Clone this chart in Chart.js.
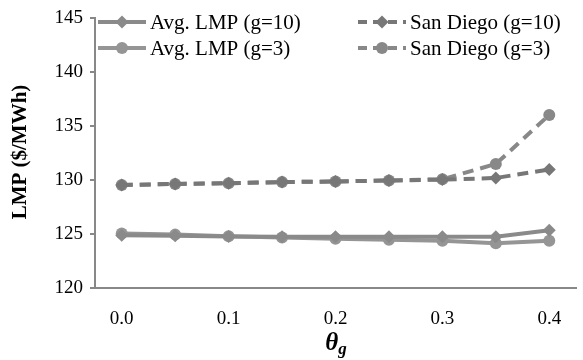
<!DOCTYPE html>
<html>
<head>
<meta charset="utf-8">
<script src="https://cdn.jsdelivr.net/npm/chart.js@4.4.1/dist/chart.umd.min.js"></script>
<style>
  html, body { margin: 0; padding: 0; background: #fff; }
  #wrap { width: 583px; height: 360px; }
</style>
</head>
<body>
<div id="wrap"><canvas id="lmpChart" width="583" height="360"></canvas></div>
<script>
const thetaLabels = ["0.0", "0.05", "0.1", "0.15", "0.2", "0.25", "0.3", "0.35", "0.4"];
const avgLmpG10 = [124.9, 124.85, 124.78, 124.76, 124.75, 124.75, 124.75, 124.75, 125.35];
const avgLmpG3 = [125.05, 124.95, 124.8, 124.68, 124.57, 124.48, 124.38, 124.15, 124.38];
const sanDiegoG10 = [129.55, 129.65, 129.72, 129.82, 129.88, 129.97, 130.05, 130.2, 131.0];
const sanDiegoG3 = [129.55, 129.65, 129.72, 129.82, 129.88, 129.97, 130.08, 131.5, 136.05];
const yTicks = [120, 125, 130, 135, 140, 145];

const serif = "'Liberation Serif', 'Times New Roman', serif";

function series(label, data, color, shape, dashed) {
  return {
    label: label,
    data: data,
    borderColor: color,
    backgroundColor: color,
    pointBackgroundColor: color,
    pointBorderColor: color,
    pointStyle: shape,
    pointRadius: shape === "rectRot" ? 6.5 : 6,
    pointBorderWidth: 0,
    borderWidth: 4,
    borderDash: dashed ? [11, 7] : [],
    tension: 0,
    fill: false
  };
}

const datasets = [
  series("Avg. LMP (g=10)", avgLmpG10, "#8a8a8a", "rectRot", false),
  series("San Diego (g=10)", sanDiegoG10, "#777777", "rectRot", true),
  series("Avg. LMP (g=3)", avgLmpG3, "#959595", "circle", false),
  series("San Diego (g=3)", sanDiegoG3, "#888888", "circle", true)
];

// legend laid out like the original: two columns, two rows, inside the plot
const legendSlots = [
  { x: 98, y: 22 },
  { x: 358, y: 22 },
  { x: 98, y: 48 },
  { x: 358, y: 48 }
];

const legendPlugin = {
  id: "cornerLegend",
  afterDatasetsDraw(chart) {
    const ctx = chart.ctx;
    chart.data.datasets.forEach((ds, i) => {
      const slot = legendSlots[i];
      const lineW = 48;
      ctx.save();
      ctx.strokeStyle = ds.borderColor;
      ctx.lineWidth = ds.borderWidth;
      ctx.setLineDash(ds.borderDash.length ? [9, 6] : []);
      ctx.beginPath();
      ctx.moveTo(slot.x, slot.y);
      ctx.lineTo(slot.x + lineW, slot.y);
      ctx.stroke();
      ctx.setLineDash([]);
      ctx.fillStyle = ds.backgroundColor;
      Chart.helpers.drawPoint(ctx, {
        pointStyle: ds.pointStyle,
        radius: ds.pointRadius,
        borderWidth: 0,
        rotation: 0
      }, slot.x + lineW / 2, slot.y);
      ctx.fillStyle = "#000";
      ctx.font = "21px " + serif;
      ctx.textBaseline = "middle";
      ctx.textAlign = "left";
      ctx.fillText(ds.label, slot.x + lineW + 4, slot.y + 1);
      ctx.restore();
    });
  }
};

const titlesPlugin = {
  id: "axisTitles",
  afterDraw(chart) {
    const ctx = chart.ctx;
    ctx.save();
    ctx.fillStyle = "#000";
    ctx.translate(21, 152);
    ctx.rotate(-Math.PI / 2);
    ctx.font = "bold 21px " + serif;
    ctx.textAlign = "center";
    ctx.textBaseline = "middle";
    ctx.fillText("LMP ($/MWh)", 0, 0);
    ctx.restore();

    ctx.save();
    ctx.fillStyle = "#000";
    ctx.textBaseline = "alphabetic";
    ctx.textAlign = "left";
    ctx.font = "bold italic 25px " + serif;
    const thetaW = ctx.measureText("\u03b8").width;
    ctx.font = "bold italic 17px " + serif;
    const gW = ctx.measureText("g").width;
    const startX = 336 - (thetaW + gW) / 2;
    ctx.font = "bold italic 25px " + serif;
    ctx.fillText("\u03b8", startX, 350);
    ctx.font = "bold italic 17px " + serif;
    ctx.fillText("g", startX + thetaW, 354);
    ctx.restore();
  }
};

new Chart(document.getElementById("lmpChart"), {
  type: "line",
  data: {
    labels: thetaLabels,
    datasets: datasets
  },
  plugins: [legendPlugin, titlesPlugin],
  options: {
    responsive: false,
    animation: false,
    layout: { padding: { top: 14, right: 7, left: 0, bottom: 0 } },
    plugins: {
      legend: { display: false },
      tooltip: { enabled: false }
    },
    scales: {
      x: {
        type: "category",
        offset: true,
        grid: { display: false, drawTicks: false },
        border: { color: "#888", width: 2 },
        ticks: {
          autoSkip: false,
          maxRotation: 0,
          padding: 20,
          color: "#000",
          font: { family: serif, size: 19 },
          callback: (value, index) => (index % 2 === 0 ? thetaLabels[index] : "")
        },
        afterFit: (scale) => { scale.height = 72; }
      },
      y: {
        min: 120,
        max: 145,
        grid: { drawOnChartArea: false, tickLength: 5, color: "#888", lineWidth: 2 },
        border: { color: "#888", width: 2 },
        afterBuildTicks: (scale) => { scale.ticks = yTicks.map((v) => ({ value: v })); },
        ticks: {
          padding: 7,
          color: "#000",
          font: { family: serif, size: 19 }
        },
        afterFit: (scale) => { scale.width = 95; }
      }
    }
  }
});
</script>
</body>
</html>
